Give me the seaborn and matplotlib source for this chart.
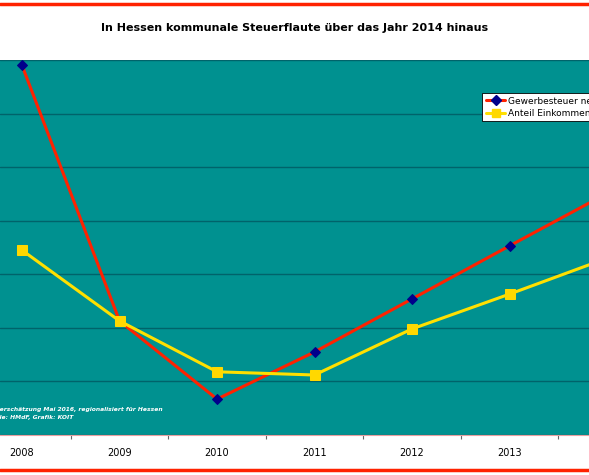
import matplotlib
matplotlib.use('Agg')
import matplotlib.pyplot as plt
from matplotlib.lines import Line2D
import seaborn as sns
import pandas as pd
import numpy as np

# data (arbitrary units - the value axis is cut off)
years = ['2008', '2009', '2010', '2011', '2012', '2013', '2014']
gewerbesteuer = [6.90, 2.13, 0.67, 1.55, 2.54, 3.53, 4.51]
einkommensteuer = [3.45, 2.13, 1.18, 1.12, 1.98, 2.63, 3.30]
labels = ['Gewerbesteuer netto', 'Anteil Einkommensteuer']

title = 'In Hessen kommunale Steuerflaute über das Jahr 2014 hinaus'
source = ['Steuerschätzung Mai 2016, regionalisiert für Hessen',
          'Quelle: HMdF, Grafik: KOIT']

df = pd.DataFrame({'pos': np.arange(len(years)),
                   'gew': gewerbesteuer,
                   'ek': einkommensteuer})

sns.set_style('white')
plt.rcParams['font.family'] = ['DejaVu Sans']
plt.rcParams['text.color'] = 'black'
plt.rcParams['xtick.color'] = 'black'

fig = plt.figure(figsize=(5.89, 4.75), dpi=100)
ax = fig.add_axes([0, 40 / 475, 1, 375 / 475])
ax.set_facecolor('#009190')

# lines
sns.lineplot(data=df, x='pos', y='gew', ax=ax, color='#ff2200', linewidth=2.2,
             marker='D', markersize=5, markerfacecolor='#00008b',
             markeredgecolor='#00008b', zorder=3)
sns.lineplot(data=df, x='pos', y='ek', ax=ax, color='#ffe000', linewidth=2.2,
             marker='s', markersize=7, markerfacecolor='#ffd800',
             markeredgecolor='#ffd800', zorder=3)

ax.set_yticks(np.arange(0, 8))
ax.yaxis.grid(True, color='#00636a', linewidth=1)
ax.set_yticklabels([])
ax.tick_params(axis='y', length=0)

ax.set_xticks(np.arange(len(years)))
ax.set_xticklabels(years, fontsize=7)
ax.set_xticks(np.arange(len(years)) - 0.5, minor=True)
ax.tick_params(axis='x', which='major', length=0, pad=9)
ax.tick_params(axis='x', which='minor', bottom=True, length=3, width=0.8,
               color='#666666', direction='out')
ax.set_xlabel('')
ax.set_ylabel('')

# axes ranges: cut off left and right like the original
step = 97.5
xmin = -22 / step
ax.set_xlim(xmin, xmin + 589 / step)
ax.set_ylim(0, 7)

for s in ['top', 'left', 'right']:
    ax.spines[s].set_visible(False)
ax.spines['bottom'].set_color('#e8a0a0')
ax.spines['bottom'].set_linewidth(0.8)

# legend (cut off at the right edge)
handles = [Line2D([], [], color='#ff2200', lw=2.2, marker='D', markersize=5,
                  markerfacecolor='#00008b', markeredgecolor='#00008b'),
           Line2D([], [], color='#ffe000', lw=2.2, marker='s', markersize=6,
                  markerfacecolor='#ffd800', markeredgecolor='#ffd800')]
leg = ax.legend(handles, labels, loc='upper left',
                bbox_to_anchor=(482 / 589, 1 - 93 / 475),
                bbox_transform=fig.transFigure, fontsize=6.5, frameon=True,
                fancybox=False, edgecolor='black', framealpha=1,
                borderpad=0.4, handlelength=2.2, handletextpad=0.3,
                labelspacing=0.35, borderaxespad=0)
leg.get_frame().set_linewidth(0.6)

# source note
fig.text(-16 / 589, 1 - 409 / 475, source[0], color='white', fontsize=4.3,
         fontweight='bold', style='italic', va='center', ha='left')
fig.text(-16 / 589, 1 - 418 / 475, source[1], color='white', fontsize=4.3,
         fontweight='bold', style='italic', va='center', ha='left')

# title and red border lines
fig.text(0.5, 1 - 28 / 475, title, fontsize=8, fontweight='bold',
         color='black', ha='center', va='center')
fig.add_artist(Line2D([0, 1], [1 - 4 / 475, 1 - 4 / 475], color='#ff2200',
                      lw=2.5, transform=fig.transFigure))
fig.add_artist(Line2D([0, 1], [1 - 470 / 475, 1 - 470 / 475], color='#ff2200',
                      lw=2.5, transform=fig.transFigure))

fig.savefig('out.png', dpi=100)
